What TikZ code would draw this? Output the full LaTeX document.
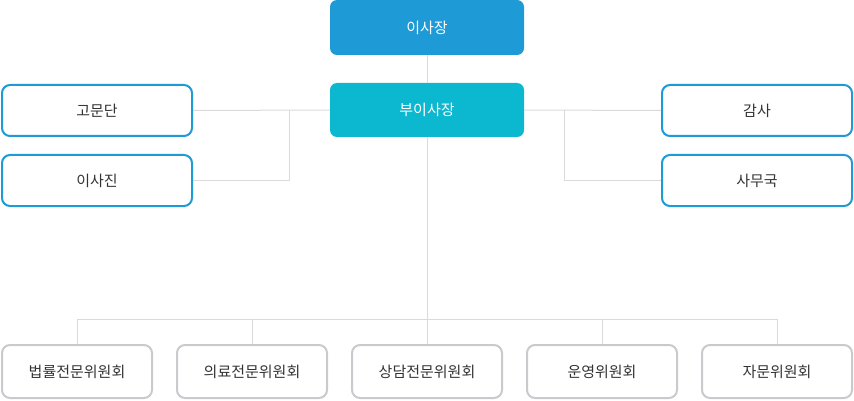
\documentclass[tikz,border=0pt]{standalone}
\usepackage{fontspec}
\setmainfont{Noto Sans CJK KR}
\usepackage{tikz}
\usetikzlibrary{calc}
\definecolor{chairblue}{HTML}{1E9AD6}
\definecolor{vicecyan}{HTML}{0BB8CF}
\definecolor{boxgray}{HTML}{C8CACD}
\definecolor{linegray}{HTML}{DADADA}
\definecolor{txtgray}{HTML}{333333}

\begin{document}
\begin{tikzpicture}[x=1pt,y=-1pt]
\tikzstyle{topbox}=[rounded corners=7pt,minimum width=194pt,minimum height=55pt,inner sep=0pt,text=white,font=\fontsize{15}{17}\selectfont]
\tikzstyle{sidebox}=[draw=chairblue,line width=2pt,rounded corners=8pt,minimum width=190pt,minimum height=51pt,inner sep=0pt,text=txtgray,font=\fontsize{15}{17}\selectfont]
\tikzstyle{comitbox}=[draw=boxgray,line width=2pt,rounded corners=8pt,minimum width=150pt,minimum height=53pt,inner sep=0pt,text=txtgray,font=\fontsize{15}{17}\selectfont]
\tikzstyle{link}=[draw=linegray,line width=1pt]
\useasboundingbox (0,0) rectangle (854,401);
% top
\node[topbox,fill=chairblue] (chair) at (427,27.5) {이사장};
\node[topbox,fill=vicecyan,minimum height=54pt] (vice) at (427,110) {부이사장};
% sides
\foreach \name/\point/\label in {
	gomun/{97,110.5}/고문단,
	isajin/{97,180.5}/이사진,
	gamsa/{757,110.5}/감사,
	samu/{757,180.5}/사무국}
	\node[sidebox] (\name) at (\point) {\label};
% committees
\foreach \name/\point/\label in {
	law/{77,371.5}/법률전문위원회,
	med/{252,371.5}/의료전문위원회,
	talk/{427,371.5}/상담전문위원회,
	oper/{602,371.5}/운영위원회,
	advi/{777,371.5}/자문위원회}
	\node[comitbox] (\name) at (\point) {\label};
\coordinate (lj) at (289,110.5);
\coordinate (rj) at (564.5,110.5);
\coordinate (bus) at (427,319);
\draw[link] (chair) -- (vice);
\draw[link] (vice.west) -- (gomun.east);
\draw[link] (isajin.east) -| (lj);
\draw[link] (vice.east) -- (gamsa.west);
\draw[link] (samu.west) -| (rj);
\draw[link] (vice.south) -- (bus);
\foreach \name in {law,med,talk,oper,advi}
	\draw[link] (\name.north) |- (bus);
\end{tikzpicture}
\end{document}
